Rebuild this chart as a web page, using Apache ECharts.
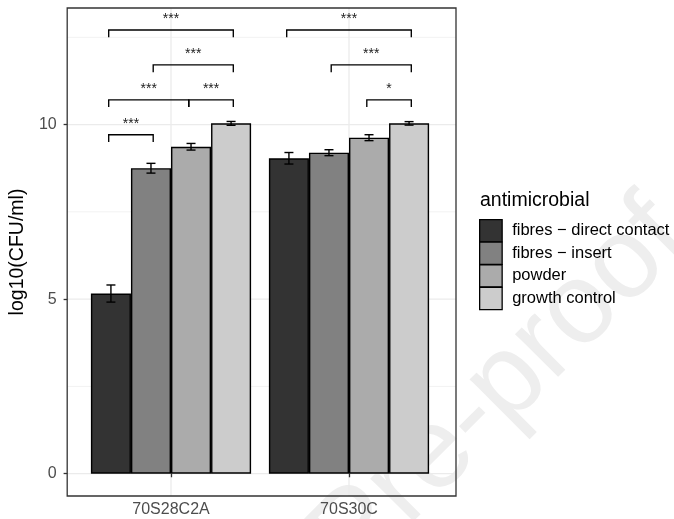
<!DOCTYPE html>
<html>
<head>
<meta charset="utf-8">
<script src="https://cdn.jsdelivr.net/npm/echarts@6/dist/echarts.min.js"></script>
<style>html,body{margin:0;padding:0;background:#fff}#c{width:674px;height:519px}</style>
</head>
<body>
<div id="c"></div>
<script>
// ---- data ----
const categories = ['70S28C2A', '70S30C'];
const groups = ['fibres \u2212 direct contact', 'fibres \u2212 insert', 'powder', 'growth control'];
const meanDirect = [5.16, 9.035];
const meanInsert = [8.75, 9.195];
const meanPowder = [9.365, 9.625];
const meanControl = [10.035, 10.035];
const errDirect = [0.245, 0.165];
const errInsert = [0.14, 0.085];
const errPowder = [0.095, 0.085];
const errControl = [0.055, 0.05];
const yTicks = [0, 5, 10];
const yMinorTicks = [2.5, 7.5, 12.5];
// significance brackets
const bracketCat = [0, 0, 0, 0, 0, 1, 1, 1];
const bracketFrom = [0, 1, 0, 2, 0, 0, 1, 2];
const bracketTo = [3, 3, 2, 3, 1, 3, 3, 3];
const bracketY = [12.71, 11.71, 10.71, 10.71, 9.71, 12.71, 11.71, 10.71];
const bracketLabel = ['***', '***', '***', '***', '***', '***', '***', '*'];

const means = [meanDirect, meanInsert, meanPowder, meanControl];
const errs = [errDirect, errInsert, errPowder, errControl];
const colors = ['#333333', '#818181', '#ababab', '#cccccc'];
const FONT = 'Liberation Sans, Arial, Helvetica, sans-serif';
const Y_MIN = -0.64, Y_MAX = 13.34;

const chart = echarts.init(document.getElementById('c'), null, {renderer: 'canvas'});

const errData = [];
for (let s = 0; s < 4; s++) for (let c = 0; c < categories.length; c++) errData.push([c, s, means[s][c], errs[s][c]]);
const bracketData = bracketCat.map((c, i) => [c, bracketFrom[i], bracketTo[i], bracketY[i]]);
const bracketOffsets = [-0.35, -0.1, 0.1, 0.35];

const series = [];
// horizontal grid lines (grid 0)
series.push({
  type: 'custom', xAxisIndex: 0, yAxisIndex: 0, z: 0, silent: true,
  data: yTicks.map(v => [0, v, 1]).concat(yMinorTicks.map(v => [0, v, 0])),
  encode: {x: 0, y: 1},
  renderItem: function (params, api) {
    const y = api.coord([0, api.value(1)])[1];
    const cs = params.coordSys;
    const major = api.value(2) === 1;
    return {type: 'line', shape: {x1: cs.x, y1: y, x2: cs.x + cs.width, y2: y},
      style: {stroke: major ? '#ebebeb' : '#f2f2f2', lineWidth: major ? 1.3 : 1}};
  }
});
// vertical grid lines at categories (grid 1)
series.push({
  type: 'custom', xAxisIndex: 1, yAxisIndex: 1, z: 0, silent: true,
  data: categories.map((c, i) => [i, 0]),
  encode: {x: 0, y: 1},
  renderItem: function (params, api) {
    const x = api.coord([api.value(0), 0])[0];
    const cs = params.coordSys;
    return {type: 'line', shape: {x1: x, y1: cs.y, x2: x, y2: cs.y + cs.height},
      style: {stroke: '#ebebeb', lineWidth: 1.3}};
  }
});
// bars
groups.forEach((g, s) => {
  series.push({
    name: g, type: 'bar', xAxisIndex: 1, yAxisIndex: 1, z: 2,
    data: means[s], barGap: '0%', barCategoryGap: '10%',
    itemStyle: {color: colors[s], borderColor: '#000', borderWidth: 1.4}
  });
});
// error bars
series.push({
  type: 'custom', xAxisIndex: 1, yAxisIndex: 1, z: 3, silent: true,
  data: errData, encode: {x: 0, y: 2},
  renderItem: function (params, api) {
    const c = api.value(0), s = api.value(1), m = api.value(2), e = api.value(3);
    const band = api.size([1, 0])[0];
    const bw = band * 0.9 / 4;
    const cx = api.coord([c, m])[0] + (s - 1.5) * bw;
    const yt = api.coord([c, m + e])[1], yb = api.coord([c, m - e])[1];
    const hw = 4.5;
    const st = {stroke: '#000', lineWidth: 1.4};
    return {type: 'group', children: [
      {type: 'line', shape: {x1: cx, y1: yt, x2: cx, y2: yb}, style: st},
      {type: 'line', shape: {x1: cx - hw, y1: yt, x2: cx + hw, y2: yt}, style: st},
      {type: 'line', shape: {x1: cx - hw, y1: yb, x2: cx + hw, y2: yb}, style: st}
    ]};
  }
});
// significance brackets
series.push({
  type: 'custom', xAxisIndex: 1, yAxisIndex: 1, z: 3, silent: true,
  data: bracketData, encode: {x: 0, y: 3},
  renderItem: function (params, api) {
    const c = api.value(0), a = api.value(1), b = api.value(2), yv = api.value(3);
    const band = api.size([1, 0])[0];
    const cx = api.coord([c, yv])[0];
    const y = api.coord([c, yv])[1];
    const x1 = cx + bracketOffsets[a] * band, x2 = cx + bracketOffsets[b] * band;
    const tip = 7.3;
    return {type: 'group', children: [
      {type: 'polyline', shape: {points: [[x1, y + tip], [x1, y], [x2, y], [x2, y + tip]]},
        style: {stroke: '#000', lineWidth: 1.35, fill: null}},
      {type: 'text', style: {x: (x1 + x2) / 2, y: y - 10.5, text: bracketLabel[params.dataIndex],
        font: '14px ' + FONT, fill: '#222', align: 'center', verticalAlign: 'middle'}}
    ]};
  }
});

const option = {
  backgroundColor: '#ffffff',
  animation: false,
  grid: [
    {left: 64, top: 8, width: 392, height: 488, show: true, borderColor: '#333333', borderWidth: 1.3, backgroundColor: 'transparent', z: 4},
    {left: 82, top: 8, width: 356, height: 488}
  ],
  xAxis: [
    {type: 'value', gridIndex: 0, min: 0, max: 1, show: false},
    {type: 'category', gridIndex: 1, data: categories,
      axisLine: {show: false},
      axisTick: {show: true, alignWithLabel: true, length: 3.6, lineStyle: {color: '#333333', width: 1.3}},
      axisLabel: {fontSize: 16, color: '#4d4d4d', fontFamily: FONT, margin: 6},
      splitLine: {show: false}}
  ],
  yAxis: [
    {type: 'value', gridIndex: 0, min: Y_MIN, max: Y_MAX,
      name: 'log10(CFU/ml)', nameLocation: 'middle', nameGap: 31, nameRotate: 90,
      nameTextStyle: {fontSize: 19.5, color: '#000', fontFamily: FONT},
      axisLine: {show: false},
      axisTick: {show: true, length: 3.6, customValues: yTicks, lineStyle: {color: '#333333', width: 1.3}},
      axisLabel: {customValues: yTicks, fontSize: 16, color: '#4d4d4d', fontFamily: FONT, margin: 10.5},
      splitLine: {show: false}},
    {type: 'value', gridIndex: 1, min: Y_MIN, max: Y_MAX, show: false, splitLine: {show: false}}
  ],
  legend: {
    data: groups, orient: 'vertical', left: 479, top: 219, padding: 0,
    icon: 'rect', itemWidth: 22.5, itemHeight: 22.25, itemGap: -1,
    itemStyle: {borderWidth: 1.3},
    textStyle: {fontSize: 16.5, lineHeight: 16, color: '#000', fontFamily: FONT, padding: [0, 0, 0, 5]},
    selectedMode: false
  },
  graphic: [
    {type: 'text', left: 480, top: 191, z: 10,
      style: {text: 'antimicrobial', font: '19.5px ' + FONT, fill: '#000'}},
    {type: 'text', x: 356, y: 534, rotation: Math.PI / 4, z: -10, silent: true,
      style: {text: 'Journal Pre-proof', font: '115px ' + FONT, fill: '#eeeeee', align: 'center', verticalAlign: 'middle'}}
  ],
  series: series
};
chart.setOption(option);
</script>
</body>
</html>
